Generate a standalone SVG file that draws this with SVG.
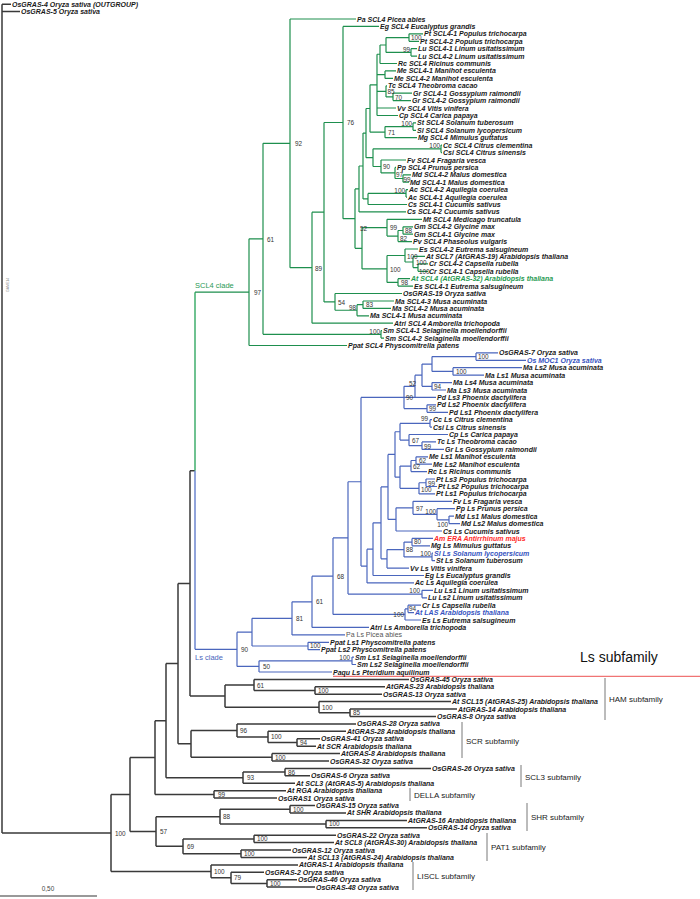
<svg xmlns="http://www.w3.org/2000/svg" width="700" height="899" viewBox="0 0 700 899">
<style>
.l{font-family:"Liberation Sans",Arial,sans-serif;font-size:7px;font-weight:bold;font-style:italic;fill:#1a1a1a}
.b{font-family:"Liberation Sans",Arial,sans-serif;font-size:6.4px;fill:#333}
.e{text-anchor:end}
.s{font-family:"Liberation Sans",Arial,sans-serif;font-size:8px;fill:#222}
.gr{fill:none;stroke:#1e8f4e;stroke-width:1.2}
.bl{fill:none;stroke:#4a66bd;stroke-width:1.2}
.k{fill:none;stroke:#3a3a3a;stroke-width:1.5}
.br{fill:none;stroke:#555;stroke-width:0.8}
</style>
<rect width="700" height="899" fill="#fff"/>
<g id="connectors">
<path class="k" d="M2 4.2V832.95M2 4.2H11M2 11.6H20M2 832.95H111M111 794.51V871.38M111 794.51H130M111 871.38H211M130 757.53V831.49M130 757.53H155M130 831.49H156M155 720.65V794.4M155 720.65H166M155 794.4H214M166 663.6V777.7M166 663.6H178M166 777.7H243M178 583.4V743.85M178 583.4H190M178 743.85H191M190 470.75V696.08M190 470.75H195M190 696.08H225M225 684.95V707.2M225 684.95H254M225 707.2H319M254 679.4V690.5M254 679.4H409M254 690.5H315M315 686.8V694.2M315 686.8H385M315 694.2H382M319 701.6V712.8M319 701.6H451M319 712.8H350M350 709.1V716.5M350 709.1H457M350 716.5H436M191 730.39V757.3M191 730.39H237M191 757.3H272M237 723.9V736.88M237 723.9H356M237 736.88H268M268 731.3V742.45M268 731.3H346M268 742.45H297M297 738.7V746.2M297 738.7H320M297 746.2H316M272 753.6V761M272 753.6H340M272 761H329M243 772.1V783.3M243 772.1H285M243 783.3H295M285 768.4V775.8M285 768.4H431M285 775.8H310M214 790.7V798.1M214 790.7H286M214 798.1H277M156 816.65V846.33M156 816.65H220M156 846.33H183M220 809.2V824.1M220 809.2H290M220 824.1H326M290 805.5V812.9M290 805.5H315M290 812.9H346M326 820.4V827.8M326 820.4H407M326 827.8H427M183 838.9V853.75M183 838.9H254M183 853.75H241M254 835.2V842.6M254 835.2H336M254 842.6H334M241 850V857.5M241 850H291M241 857.5H307M211 864.9V877.85M211 864.9H298M211 877.85H231M231 872.3V883.4M231 872.3H264M231 883.4H267M267 879.7V887.1M267 879.7H297M267 887.1H315"/>
<path fill="none" stroke="#3fae6c" stroke-width="1.5" d="M195 292.18V470.75"/>
<path fill="none" stroke="#6d86cf" stroke-width="1.5" d="M195 470.75V649.29"/>
<path class="gr" d="M195 292.18H249M249 238.85V345.5M249 238.85H263M249 345.5H347M263 143.35V334.35M263 143.35H290M263 334.35H381M381 330.6V338.1M381 330.6H382M381 338.1H384M290 19V267.7M290 19H356M290 267.7H312M312 212.19V323.2M312 212.19H324M312 323.2H393M324 122.5V301.88M324 122.5H343M324 301.88H335M335 293.5V310.25M335 293.5H402M335 310.25H357M357 304.7V315.8M357 304.7H363M357 315.8H369M363 301V308.4M363 301H394M363 308.4H391M343 26.4V218.63M343 26.4H379M343 218.63H355M355 188.96V248.3M355 188.96H359M355 248.3H362M362 227.68V268.95M362 227.68H387M362 268.95H387M387 219.3V236.05M387 219.3H422M387 236.05H398M398 230.5V241.6M398 230.5H403M398 241.6H412M403 226.8V234.2M403 226.8H413M403 234.2H413M387 255.5V282.4M387 255.5H405M387 282.4H398M405 249V262M405 249H418M405 262H413M413 256.4V267.6M413 256.4H425M413 267.6H418M418 263.9V271.3M418 263.9H428M418 271.3H428M398 278.7V286.1M398 278.7H410M398 286.1H413M359 166.02V211.9M359 166.02H363M359 211.9H406M363 133.09V198.95M363 133.09H366M363 198.95H368M368 193.4V204.5M368 193.4H406M368 204.5H407M406 189.7V197.1M406 189.7H408M406 197.1H407M366 108.51V157.66M366 108.51H370M366 157.66H373M373 148.85V166.48M373 148.85H441M373 166.48H381M441 145.1V152.6M441 145.1H442M441 152.6H442M381 160V172.95M381 160H406M381 172.95H395M395 167.4V178.5M395 167.4H396M395 178.5H403M403 174.8V182.2M403 174.8H411M403 182.2H409M370 84.87V132.15M370 84.87H377M370 132.15H385M385 126.6V137.7M385 126.6H413M385 137.7H417M413 122.9V130.3M413 122.9H416M413 130.3H416M377 54.24V115.5M377 54.24H380M377 74.65H385M377 91.35H386M377 108H396M377 115.5H398M380 44.98V63.5M380 44.98H386M380 63.5H397M386 37.55V52.4M386 37.55H409M386 52.4H411M409 33.8V41.3M409 33.8H423M409 41.3H419M411 48.7V56.1M411 48.7H417M411 56.1H417M385 70.9V78.4M385 70.9H396M385 78.4H393M386 85.8V96.9M386 85.8H387M386 96.9H393M393 93.2V100.6M393 93.2H412M393 100.6H411"/>
<path class="bl" d="M195 649.29H237M237 632.17V666.4M237 632.17H252M237 666.4H259M259 660.8V672M259 660.8H352M259 672H332M352 657.1V664.5M352 657.1H354M352 664.5H356M252 618.34V646M252 618.34H292M252 646H308M308 642.3V649.7M308 642.3H329M308 649.7H320M292 601.79V634.9M292 601.79H312M292 634.9H345M312 576.17V627.4M312 576.17H333M312 627.4H369M333 537.89V614.45M333 537.89H348M333 614.45H405M405 608.9V620M405 608.9H408M405 620H421M408 605.2V612.6M408 605.2H421M408 612.6H414M348 481.73V594.05M348 481.73H361M348 594.05H422M422 590.3V597.8M422 590.3H433M422 597.8H427M361 397.42V566.04M361 397.42H404M361 566.04H367M367 549.19V582.9M367 549.19H373M367 582.9H414M373 522.87V575.5M373 522.87H381M373 575.5H424M381 486.93V558.81M381 486.93H388M381 558.81H387M387 549.53V568.1M387 549.53H404M387 568.1H409M404 542.1V556.95M404 542.1H412M404 556.95H432M412 538.4V545.8M412 538.4H433M412 545.8H430M432 553.2V560.7M432 553.2H433M432 560.7H435M388 454.47V519.4M388 454.47H395M388 519.4H396M396 507.79V531M396 507.79H413M396 531H442M413 501.3V514.28M413 501.3H452M413 514.28H437M437 508.7V519.85M437 508.7H455M437 519.85H449M449 516.1V523.6M449 516.1H454M449 523.6H460M395 431.74V477.19M395 431.74H400M395 477.19H400M400 466.05V488.33M400 466.05H411M400 488.33H419M419 482.75V493.9M419 482.75H426M419 493.9H435M426 479V486.5M426 479H435M426 486.5H437M411 460.5V471.6M411 460.5H416M411 471.6H427M416 456.8V464.2M416 456.8H428M416 464.2H432M400 423.4V440.08M400 423.4H430M400 440.08H409M430 419.7V427.1M430 419.7H432M430 427.1H432M409 434.5V445.65M409 434.5H448M409 445.65H422M422 441.9V449.4M422 441.9H436M422 449.4H444M404 386.28V408.55M404 386.28H415M404 397.4H436M404 408.55H427M427 404.8V412.3M427 404.8H436M427 412.3H448M415 375.17V397.4M415 375.17H422M422 364.03V386.3M422 364.03H432M422 386.3H432M432 382.6V390M432 382.6H452M432 390H446M432 356.6V371.45M432 356.6H476M432 371.45H453M476 352.9V360.3M476 352.9H498M476 360.3H526M453 367.7V375.2M453 367.7H522M453 375.2H484"/>
<path fill="none" stroke="#f07474" stroke-width="1.3" d="M333 676.3H700"/>
<path class="br" d="M605 678V720M462 722V758M521 765V787M410 788V801M527 803V831M487 833V861M413 862V890"/>
<path fill="none" stroke="#999" stroke-width="2" d="M0 896H97"/>
</g>
<g id="clade-labels" font-family="Liberation Sans, Arial, sans-serif">
<text x="195" y="288" font-size="7.5" fill="#2a9a55">SCL4 clade</text>
<text x="195" y="660" font-size="7.5" fill="#4a66bd">Ls clade</text>
<text x="580" y="662" font-size="14" fill="#111">Ls subfamily</text>
<text class="s" x="609" y="702">HAM subfamily</text>
<text class="s" x="466" y="744">SCR subfamily</text>
<text class="s" x="525" y="780">SCL3 subfamily</text>
<text class="s" x="414" y="798">DELLA subfamily</text>
<text class="s" x="531" y="820">SHR subfamily</text>
<text class="s" x="491" y="850">PAT1 subfamily</text>
<text class="s" x="417" y="879">LISCL subfamily</text>
<text x="48" y="891" font-size="6.4" fill="#444" text-anchor="middle">0,50</text>
<text transform="translate(9 292) rotate(-90)" font-size="3.5" fill="#888">GAME14</text>
</g>
<g id="bootstrap">
<text class="b" x="411" y="39.9">100</text><text class="b e" x="410" y="51.5">99</text><text class="b" x="387.5" y="93.8">85</text><text class="b" x="395" y="99.5">70</text><text class="b e" x="412" y="126">100</text><text class="b" x="388" y="134.5">71</text><text class="b e" x="440" y="148">100</text><text class="b" x="383" y="169">90</text><text class="b" x="396" y="176.5">97</text><text class="b" x="403.5" y="181.8" font-size="5.8">99</text><text class="b e" x="405" y="192.5">100</text><text class="b" x="360" y="230.5">52</text><text class="b" x="347" y="125">76</text><text class="b" x="390" y="230">99</text><text class="b" x="405" y="232.5">88</text><text class="b" x="400" y="240.5">82</text><text class="b" x="407" y="258.5">100</text><text class="b" x="416" y="264.5">100</text><text class="b" x="419" y="274">100</text><text class="b" x="390" y="271.5">100</text><text class="b" x="401" y="285">98</text><text class="b" x="366" y="307">83</text><text class="b e" x="356" y="309.5">98</text><text class="b" x="338" y="304.5">54</text><text class="b" x="315" y="270.5">89</text><text class="b" x="295" y="146">92</text><text class="b e" x="380" y="333.5">100</text><text class="b" x="267" y="241.5">61</text><text class="b" x="254" y="295">97</text>
<text class="b" x="478" y="359">100</text><text class="b" x="456" y="374">100</text><text class="b" x="434" y="389">94</text><text class="b" x="409" y="385.5">52</text><text class="b" x="429" y="411">99</text><text class="b" x="406" y="400">90</text><text class="b e" x="428" y="421">99</text><text class="b" x="412" y="443">67</text><text class="b" x="424" y="448.5">99</text><text class="b" x="419" y="463">62</text><text class="b" x="413" y="469">62</text><text class="b" x="428" y="485.5">99</text><text class="b" x="421" y="492">100</text><text class="b" x="416" y="510.5">97</text><text class="b e" x="436" y="513.5">100</text><text class="b e" x="448" y="526.5">100</text><text class="b" x="414" y="544">80</text><text class="b e" x="431" y="556">100</text><text class="b" x="406" y="552">88</text><text class="b e" x="420" y="593">100</text><text class="b" x="409" y="610.8" font-size="5.5">94</text><text class="b e" x="404" y="616.5">100</text><text class="b" x="337" y="578.5">68</text><text class="b" x="316" y="604">61</text><text class="b" x="296" y="620.5">81</text><text class="b" x="310" y="648.3">100</text><text class="b e" x="350" y="660">100</text><text class="b" x="263" y="669">50</text><text class="b" x="241" y="652">90</text>
<text class="b" x="257" y="687.5">61</text><text class="b" x="318" y="692.8">100</text><text class="b" x="322" y="709.5">100</text><text class="b" x="353" y="715">85</text><text class="b" x="240" y="732.5">96</text><text class="b" x="271" y="739">100</text><text class="b" x="300" y="744.8">94</text><text class="b" x="275" y="759.5">100</text><text class="b" x="288" y="774.5">86</text><text class="b" x="247" y="780">93</text><text class="b" x="218" y="796.5">99</text><text class="b" x="293" y="811.5">100</text><text class="b" x="329" y="826.3">100</text><text class="b" x="223" y="819">88</text><text class="b" x="257" y="841.3">100</text><text class="b" x="244" y="856">100</text><text class="b" x="187" y="848.5">69</text><text class="b" x="160" y="834">57</text><text class="b" x="270" y="885.5">100</text><text class="b" x="234" y="880">79</text><text class="b" x="214" y="873.5">100</text><text class="b" x="115" y="836">100</text>
</g>
<g id="leaves" xml:space="preserve">
<g id="n-OsGRAS-4"><text class="l" x="12" y="6.7">OsGRAS-4  Oryza sativa  (OUTGROUP)</text></g>
<g id="n-OsGRAS-5"><text class="l" x="21" y="14.1">OsGRAS-5  Oryza sativa</text></g>
<g id="n-PaSCL4"><text class="l" x="357" y="21.5">Pa SCL4  Picea abies</text></g>
<g id="n-EgSCL4"><text class="l" x="380" y="28.9">Eg SCL4  Eucalyptus grandis</text></g>
<g id="n-PtSCL4-1"><text class="l" x="424" y="36.3">Pt SCL4-1  Populus trichocarpa</text></g>
<g id="n-PtSCL4-2"><text class="l" x="420" y="43.8">Pt SCL4-2  Populus trichocarpa</text></g>
<g id="n-LuSCL4-1"><text class="l" x="418" y="51.2">Lu SCL4-1  Linum usitatissimum</text></g>
<g id="n-LuSCL4-2"><text class="l" x="418" y="58.6">Lu SCL4-2  Linum usitatissimum</text></g>
<g id="n-RcSCL4"><text class="l" x="398" y="66">Rc SCL4  Ricinus communis</text></g>
<g id="n-MeSCL4-1"><text class="l" x="397" y="73.4">Me SCL4-1  Manihot esculenta</text></g>
<g id="n-MeSCL4-2"><text class="l" x="394" y="80.9">Me SCL4-2  Manihot esculenta</text></g>
<g id="n-TcSCL4"><text class="l" x="388" y="88.3">Tc SCL4  Theobroma cacao</text></g>
<g id="n-GrSCL4-1"><text class="l" x="413" y="95.7">Gr SCL4-1  Gossypium raimondii</text></g>
<g id="n-GrSCL4-2"><text class="l" x="412" y="103.1">Gr SCL4-2  Gossypium raimondii</text></g>
<g id="n-VvSCL4"><text class="l" x="397" y="110.5">Vv SCL4  Vitis vinifera</text></g>
<g id="n-CpSCL4"><text class="l" x="399" y="118">Cp SCL4  Carica papaya</text></g>
<g id="n-StSCL4"><text class="l" x="417" y="125.4">St SCL4  Solanum tuberosum</text></g>
<g id="n-SlSCL4"><text class="l" x="417" y="132.8">Sl SCL4  Solanum lycopersicum</text></g>
<g id="n-MgSCL4"><text class="l" x="418" y="140.2">Mg SCL4  Mimulus guttatus</text></g>
<g id="n-CcSCL4"><text class="l" x="443" y="147.6">Cc SCL4  Citrus clementina</text></g>
<g id="n-CsiSCL4"><text class="l" x="443" y="155.1">Csi SCL4  Citrus sinensis</text></g>
<g id="n-FvSCL4"><text class="l" x="407" y="162.5">Fv SCL4  Fragaria vesca</text></g>
<g id="n-PpSCL4"><text class="l" x="397" y="169.9">Pp SCL4  Prunus persica</text></g>
<g id="n-MdSCL4-2"><text class="l" x="412" y="177.3">Md SCL4-2  Malus domestica</text></g>
<g id="n-MdSCL4-1"><text class="l" x="410" y="184.7">Md SCL4-1  Malus domestica</text></g>
<g id="n-AcSCL4-2"><text class="l" x="409" y="192.2">Ac SCL4-2  Aquilegia coerulea</text></g>
<g id="n-AcSCL4-1"><text class="l" x="408" y="199.6">Ac SCL4-1  Aquilegia coerulea</text></g>
<g id="n-CsSCL4-1"><text class="l" x="408" y="207">Cs SCL4-1  Cucumis sativus</text></g>
<g id="n-CsSCL4-2"><text class="l" x="407" y="214.4">Cs SCL4-2  Cucumis sativus</text></g>
<g id="n-MtSCL4"><text class="l" x="423" y="221.8">Mt SCL4  Medicago truncatula</text></g>
<g id="n-GmSCL4-2"><text class="l" x="414" y="229.3">Gm SCL4-2  Glycine max</text></g>
<g id="n-GmSCL4-1"><text class="l" x="414" y="236.7">Gm SCL4-1  Glycine max</text></g>
<g id="n-PvSCL4"><text class="l" x="413" y="244.1">Pv SCL4  Phaseolus vulgaris</text></g>
<g id="n-EsSCL4-2"><text class="l" x="419" y="251.5">Es SCL4-2  Eutrema salsugineum</text></g>
<g id="n-AtSCL7"><text class="l" x="426" y="258.9">At SCL7 (AtGRAS-19)  Arabidopsis thaliana</text></g>
<g id="n-CrSCL4-2"><text class="l" x="429" y="266.4">Cr SCL4-2  Capsella rubella</text></g>
<g id="n-CrSCL4-1"><text class="l" x="429" y="273.8">Cr SCL4-1  Capsella rubella</text></g>
<g id="n-AtSCL4"><text class="l" x="411" y="281.2" style="fill:#1e9a50">At SCL4 (AtGRAS-32)  Arabidopsis thaliana</text></g>
<g id="n-EsSCL4-1"><text class="l" x="414" y="288.6">Es SCL4-1  Eutrema salsugineum</text></g>
<g id="n-OsGRAS-19"><text class="l" x="403" y="296">OsGRAS-19  Oryza sativa</text></g>
<g id="n-MaSCL4-3"><text class="l" x="395" y="303.5">Ma SCL4-3  Musa acuminata</text></g>
<g id="n-MaSCL4-2"><text class="l" x="392" y="310.9">Ma SCL4-2  Musa acuminata</text></g>
<g id="n-MaSCL4-1"><text class="l" x="370" y="318.3">Ma SCL4-1  Musa acuminata</text></g>
<g id="n-AtriSCL4"><text class="l" x="394" y="325.7">Atri SCL4  Amborella trichopoda</text></g>
<g id="n-SmSCL4-1"><text class="l" x="383" y="333.1">Sm SCL4-1  Selaginella moellendorffii</text></g>
<g id="n-SmSCL4-2"><text class="l" x="385" y="340.6">Sm SCL4-2  Selaginella moellendorffii</text></g>
<g id="n-PpatSCL4"><text class="l" x="348" y="348">Ppat SCL4  Physcomitrella patens</text></g>
<g id="n-OsGRAS-7"><text class="l" x="499" y="355.4">OsGRAS-7  Oryza sativa</text></g>
<g id="n-OsMOC1"><text class="l" x="527" y="362.8" style="fill:#3552c0">Os MOC1  Oryza sativa</text></g>
<g id="n-MaLs2"><text class="l" x="523" y="370.2">Ma Ls2  Musa acuminata</text></g>
<g id="n-MaLs1"><text class="l" x="485" y="377.7">Ma Ls1  Musa acuminata</text></g>
<g id="n-MaLs4"><text class="l" x="453" y="385.1">Ma Ls4  Musa acuminata</text></g>
<g id="n-MaLs3"><text class="l" x="447" y="392.5">Ma Ls3  Musa acuminata</text></g>
<g id="n-PdLs3"><text class="l" x="437" y="399.9">Pd Ls3  Phoenix dactylifera</text></g>
<g id="n-PdLs2"><text class="l" x="437" y="407.3">Pd Ls2  Phoenix dactylifera</text></g>
<g id="n-PdLs1"><text class="l" x="449" y="414.8">Pd Ls1  Phoenix dactylifera</text></g>
<g id="n-CcLs"><text class="l" x="433" y="422.2">Cc Ls  Citrus clementina</text></g>
<g id="n-CsiLs"><text class="l" x="433" y="429.6">Csi Ls  Citrus sinensis</text></g>
<g id="n-CpLs"><text class="l" x="449" y="437">Cp Ls  Carica papaya</text></g>
<g id="n-TcLs"><text class="l" x="437" y="444.4">Tc Ls  Theobroma cacao</text></g>
<g id="n-GrLs"><text class="l" x="445" y="451.9">Gr Ls  Gossypium raimondii</text></g>
<g id="n-MeLs1"><text class="l" x="429" y="459.3">Me Ls1  Manihot esculenta</text></g>
<g id="n-MeLs2"><text class="l" x="433" y="466.7">Me Ls2  Manihot esculenta</text></g>
<g id="n-RcLs"><text class="l" x="428" y="474.1">Rc Ls  Ricinus communis</text></g>
<g id="n-PtLs3"><text class="l" x="436" y="481.5">Pt Ls3  Populus trichocarpa</text></g>
<g id="n-PtLs2"><text class="l" x="438" y="489">Pt Ls2  Populus trichocarpa</text></g>
<g id="n-PtLs1"><text class="l" x="436" y="496.4">Pt Ls1  Populus trichocarpa</text></g>
<g id="n-FvLs"><text class="l" x="453" y="503.8">Fv Ls  Fragaria vesca</text></g>
<g id="n-PpLs"><text class="l" x="456" y="511.2">Pp Ls  Prunus persica</text></g>
<g id="n-MdLs1"><text class="l" x="455" y="518.6">Md Ls1  Malus domestica</text></g>
<g id="n-MdLs2"><text class="l" x="461" y="526.1">Md Ls2  Malus domestica</text></g>
<g id="n-CsLs"><text class="l" x="443" y="533.5">Cs Ls  Cucumis sativus</text></g>
<g id="n-AmERA"><text class="l" x="434" y="540.9" style="fill:#ff2a2a">Am ERA  Antirrhinum majus</text></g>
<g id="n-MgLs"><text class="l" x="431" y="548.3">Mg Ls  Mimulus guttatus</text></g>
<g id="n-SlLs"><text class="l" x="434" y="555.7" style="fill:#3552c0">Sl Ls  Solanum lycopersicum</text></g>
<g id="n-StLs"><text class="l" x="436" y="563.2">St Ls  Solanum tuberosum</text></g>
<g id="n-VvLs"><text class="l" x="410" y="570.6">Vv Ls  Vitis vinifera</text></g>
<g id="n-EgLs"><text class="l" x="425" y="578">Eg Ls  Eucalyptus grandis</text></g>
<g id="n-AcLs"><text class="l" x="415" y="585.4">Ac Ls  Aquilegia coerulea</text></g>
<g id="n-LuLs1"><text class="l" x="434" y="592.8">Lu Ls1  Linum usitatissimum</text></g>
<g id="n-LuLs2"><text class="l" x="428" y="600.3">Lu Ls2  Linum usitatissimum</text></g>
<g id="n-CrLs"><text class="l" x="422" y="607.7">Cr Ls  Capsella rubella</text></g>
<g id="n-AtLAS"><text class="l" x="415" y="615.1" style="fill:#3552c0">At LAS  Arabidopsis thaliana</text></g>
<g id="n-EsLs"><text class="l" x="422" y="622.5">Es Ls  Eutrema salsugineum</text></g>
<g id="n-AtriLs"><text class="l" x="370" y="629.9">Atri Ls  Amborella trichopoda</text></g>
<g id="n-PaLs"><text class="l" x="346" y="637.4" style="font-weight:normal;font-style:normal;fill:#555">Pa Ls  Picea abies</text></g>
<g id="n-PpatLs1"><text class="l" x="330" y="644.8">Ppat Ls1  Physcomitrella patens</text></g>
<g id="n-PpatLs2"><text class="l" x="321" y="652.2">Ppat Ls2  Physcomitrella patens</text></g>
<g id="n-SmLs1"><text class="l" x="355" y="659.6">Sm Ls1  Selaginella moellendorffii</text></g>
<g id="n-SmLs2"><text class="l" x="357" y="667">Sm Ls2  Selaginella moellendorffii</text></g>
<g id="n-PaquLs"><text class="l" x="333" y="674.5">Paqu Ls  Pteridium aquilinum</text></g>
<g id="n-OsGRAS-45"><text class="l" x="410" y="681.9">OsGRAS-45  Oryza sativa</text></g>
<g id="n-AtGRAS-23"><text class="l" x="386" y="689.3">AtGRAS-23  Arabidopsis thaliana</text></g>
<g id="n-OsGRAS-13"><text class="l" x="383" y="696.7">OsGRAS-13  Oryza sativa</text></g>
<g id="n-AtSCL15"><text class="l" x="452" y="704.1">At SCL15 (AtGRAS-25)  Arabidopsis thaliana</text></g>
<g id="n-AtGRAS-14"><text class="l" x="458" y="711.6">AtGRAS-14  Arabidopsis thaliana</text></g>
<g id="n-OsGRAS-8"><text class="l" x="437" y="719">OsGRAS-8  Oryza sativa</text></g>
<g id="n-OsGRAS-28"><text class="l" x="357" y="726.4">OsGRAS-28  Oryza sativa</text></g>
<g id="n-AtGRAS-28"><text class="l" x="347" y="733.8">AtGRAS-28  Arabidopsis thaliana</text></g>
<g id="n-OsGRAS-41"><text class="l" x="321" y="741.2">OsGRAS-41  Oryza sativa</text></g>
<g id="n-AtSCR"><text class="l" x="317" y="748.7">At SCR  Arabidopsis thaliana</text></g>
<g id="n-AtGRAS-8"><text class="l" x="341" y="756.1">AtGRAS-8  Arabidopsis thaliana</text></g>
<g id="n-OsGRAS-32"><text class="l" x="330" y="763.5">OsGRAS-32  Oryza sativa</text></g>
<g id="n-OsGRAS-26"><text class="l" x="432" y="770.9">OsGRAS-26  Oryza sativa</text></g>
<g id="n-OsGRAS-6"><text class="l" x="311" y="778.3">OsGRAS-6  Oryza sativa</text></g>
<g id="n-AtSCL3"><text class="l" x="296" y="785.8">At SCL3 (AtGRAS-5)  Arabidopsis thaliana</text></g>
<g id="n-AtRGA"><text class="l" x="287" y="793.2">At RGA  Arabidopsis thaliana</text></g>
<g id="n-OsGRAS1"><text class="l" x="278" y="800.6">OsGRAS1  Oryza sativa</text></g>
<g id="n-OsGRAS-15"><text class="l" x="316" y="808">OsGRAS-15  Oryza sativa</text></g>
<g id="n-AtSHR"><text class="l" x="347" y="815.4">At SHR  Arabidopsis thaliana</text></g>
<g id="n-AtGRAS-16"><text class="l" x="408" y="822.9">AtGRAS-16  Arabidopsis thaliana</text></g>
<g id="n-OsGRAS-14"><text class="l" x="428" y="830.3">OsGRAS-14  Oryza sativa</text></g>
<g id="n-OsGRAS-22"><text class="l" x="337" y="837.7">OsGRAS-22  Oryza sativa</text></g>
<g id="n-AtSCL8"><text class="l" x="335" y="845.1">At SCL8 (AtGRAS-30)  Arabidopsis thaliana</text></g>
<g id="n-OsGRAS-12"><text class="l" x="292" y="852.5">OsGRAS-12  Oryza sativa</text></g>
<g id="n-AtSCL13"><text class="l" x="308" y="860">At SCL13 (AtGRAS-24)  Arabidopsis thaliana</text></g>
<g id="n-AtGRAS-1"><text class="l" x="299" y="867.4">AtGRAS-1  Arabidopsis thaliana</text></g>
<g id="n-OsGRAS-2"><text class="l" x="265" y="874.8">OsGRAS-2  Oryza sativa</text></g>
<g id="n-OsGRAS-46"><text class="l" x="298" y="882.2">OsGRAS-46  Oryza sativa</text></g>
<g id="n-OsGRAS-48"><text class="l" x="316" y="889.6">OsGRAS-48  Oryza sativa</text></g>
</g>
</svg>
